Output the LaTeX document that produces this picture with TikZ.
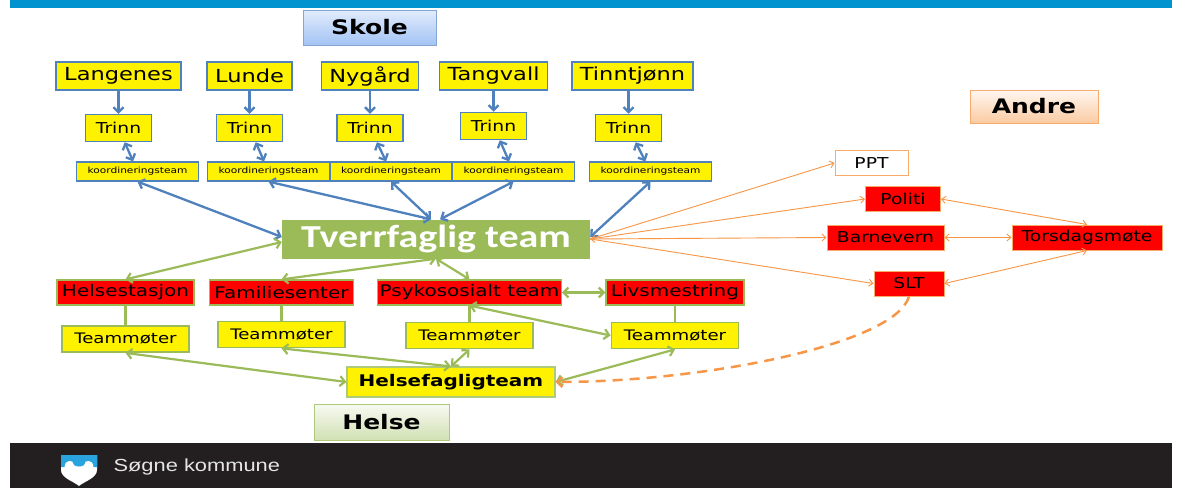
\documentclass[tikz,border=0pt]{standalone}
\usepackage{fontspec}
\usepackage{tikz}
\usetikzlibrary{positioning, arrows.meta}

\newfontfamily\boxfont{DejaVu Sans}[FakeStretch=1.25]
\newfontfamily\tvfont{Carlito}[FakeStretch=1.25]
\newfontfamily\footfont{Liberation Sans}[FakeStretch=1.25]
\newcommand{\boxsize}[1]{\fontsize{#1}{#1}\selectfont}

\definecolor{barblue}{HTML}{0093D0}
\definecolor{skoleblue}{HTML}{4F81BD}
\definecolor{skoletop}{HTML}{E2ECFC}
\definecolor{skolebottom}{HTML}{A3C3F5}
\definecolor{helsegreen}{HTML}{9BBB59}
\definecolor{andreorange}{HTML}{F79646}
\definecolor{footdark}{HTML}{231F20}
\definecolor{logoblue}{HTML}{2AA4DE}

\begin{document}
\begin{tikzpicture}[x=1pt, y=-1pt, on grid, node distance=3cm,
    >={Straight Barb[length=5pt,width=10pt]},
    school/.style={draw=skoleblue, fill=yellow, line width=1.5pt, minimum height=28pt, inner xsep=8pt, font=\boxfont\boxsize{18}},
    trinn/.style={draw=skoleblue, fill=yellow, line width=1.5pt, minimum width=66pt, minimum height=27pt, font=\boxfont\boxsize{15}},
    koord/.style={draw=skoleblue, fill=yellow, line width=1.2pt, minimum width=122pt, minimum height=19pt, inner sep=0pt, font=\boxfont\boxsize{8.5}},
    unit/.style={draw=helsegreen, fill=red, line width=1.2pt, minimum height=25pt, inner xsep=5pt, font=\boxfont\boxsize{16}},
    teammote/.style={draw=helsegreen, fill=yellow, line width=1.8pt, minimum width=127pt, minimum height=26pt, font=\boxfont\boxsize{14.5}},
    andreunit/.style={draw=andreorange!80, fill=red, line width=1pt, minimum height=25pt, font=\boxfont\boxsize{15}},
    header/.style={line width=1pt, minimum height=35pt, font=\boxfont\bfseries\boxsize{20}},
    bluearrow/.style={skoleblue, line width=2.3pt},
    greenarrow/.style={helsegreen, line width=2.2pt},
    orangearrow/.style={andreorange, line width=0.9pt, >={Straight Barb[length=4pt,width=7pt]}},
  ]
  \useasboundingbox[fill=white] (0,0) rectangle (1187,488);
  \fill[barblue] (10,0) rectangle (1172,8);
  \fill[footdark] (10,443) rectangle (1172,488);

  % logo
  \fill[white] (61,455) -- (97,455) -- (97,470) .. controls (97,478) and (85,481) .. (79,486)
    .. controls (73,481) and (61,478) .. (61,470) -- cycle;
  \fill[logoblue] (61,455) -- (97,455) -- (97,467) -- (93.5,467) .. controls (93.5,459) and (84,459) .. (84,465)
    .. controls (82,467) and (76,467) .. (74,465) .. controls (74,459) and (64.5,459) .. (64.5,467) -- (61,467) -- cycle;
  \node[font=\footfont\boxsize{17.5}, text=white!90!black, anchor=west] (kommune) at (110,467) {Søgne kommune};

  % headers
  \node[header, draw=skoleblue!70, top color=skoletop, bottom color=skolebottom, minimum width=133pt] (skole) at (369.5,27.5) {Skole};
  \node[header, draw=andreorange!80, top color=andreorange!8, bottom color=andreorange!50, minimum width=128pt, minimum height=33pt] (andre) at (1034,106.5) {Andre};

  % skoler
  \node[school] (langenes) at (118.5,76) {Langenes};
  \node[school] (lunde) [right=131pt of langenes] {Lunde};
  \node[school] (nygard) [right=120.5pt of lunde] {Nygård};
  \node[school] (tangvall) [right=123.5pt of nygard] {Tangvall};
  \node[school] (tinntjonn) [right=139pt of tangvall] {Tinntjønn};

  \node[trinn] (trinn1) [below=52pt of langenes] {Trinn};
  \node[trinn] (trinn2) [below=52pt of lunde] {Trinn};
  \node[trinn] (trinn3) [below=52pt of nygard] {Trinn};
  \node[trinn] (trinn4) [below=50pt of tangvall] {Trinn};
  \node[trinn] (trinn5) [below left=52pt and 4pt of tinntjonn] {Trinn};

  \node[koord] (koord1) [below right=43.5pt and 19pt of trinn1] {koordineringsteam};
  \node[koord] (koord2) [below right=43.5pt and 19pt of trinn2] {koordineringsteam};
  \node[koord] (koord3) [below right=43.5pt and 21pt of trinn3] {koordineringsteam};
  \node[koord] (koord4) [below right=45.5pt and 20pt of trinn4] {koordineringsteam};
  \node[koord] (koord5) [below right=43.5pt and 22pt of trinn5] {koordineringsteam};

  \node[fill=helsegreen, text=white, minimum width=308pt, minimum height=39pt, font=\tvfont\bfseries\boxsize{32}] (tverr) at (436,239) {Tverrfaglig team};

  % helse
  \node[unit] (helsestasjon) at (125.5,292.5) {Helsestasjon};
  \node[unit] (familiesenter) [right=156pt of helsestasjon] {Familiesenter};
  \node[unit, inner xsep=2pt] (psyko) [right=188pt of familiesenter] {Psykososialt team};
  \node[unit] (livs) [right=205.5pt of psyko] {Livsmestring};

  \node[teammote] (tm1) [below=46.5pt of helsestasjon] {Teammøter};
  \node[teammote] (tm2) [below=42pt of familiesenter] {Teammøter};
  \node[teammote] (tm3) [below=43pt of psyko] {Teammøter};
  \node[teammote] (tm4) [below=43pt of livs] {Teammøter};

  \node[draw=helsegreen!80, fill=yellow, line width=1.2pt, minimum width=208pt, minimum height=30pt, font=\boxfont\bfseries\boxsize{16}] (helsefaglig) at (451,382) {Helsefagligteam};
  \node[header, draw=helsegreen!80, top color=helsegreen!8, bottom color=helsegreen!45, minimum width=135pt, minimum height=36pt] (helse) [below left=40pt and 69.5pt of helsefaglig] {Helse};

  % andre
  \node[andreunit, minimum width=117pt] (barnevern) at (885.5,237.5) {Barnevern};
  \node[andreunit, fill=white, minimum width=73pt] (ppt) [above left=74.5pt and 14pt of barnevern] {PPT};
  \node[andreunit, minimum width=75pt] (politi) [above right=38.5pt and 17.5pt of barnevern] {Politi};
  \node[andreunit, minimum width=70pt] (slt) [below right=46pt and 23.5pt of barnevern] {SLT};
  \node[andreunit, minimum width=150pt] (torsdag) [right=201.5pt of barnevern] {Torsdagsmøte};

  \path[bluearrow, ->]
    (langenes) edge (trinn1)
    (lunde) edge (trinn2)
    (nygard) edge (trinn3)
    (tangvall) edge (trinn4)
    (tinntjonn.south -| trinn5) edge (trinn5);
  \path[bluearrow, <->]
    (trinn1) edge (koord1)
    (trinn2) edge (koord2)
    (trinn3) edge (koord3)
    (trinn4) edge (koord4)
    (trinn5) edge (koord5)
    (koord1.south) edge ([yshift=2pt]tverr.west)
    (koord2.south) edge ([xshift=-5pt]tverr.north)
    (koord3.south) edge ([xshift=-5pt]tverr.north)
    (koord4.south) edge ([xshift=4pt]tverr.north)
    (koord5.south) edge ([yshift=2pt]tverr.east);

  \path[greenarrow, <->]
    ([yshift=-3pt]tverr.west) edge (helsestasjon.north)
    (tverr.south) edge (familiesenter.north)
    (tverr.south) edge (psyko.north)
    (psyko) edge (livs)
    (psyko.south) edge (tm4.west)
    (tm1.south) edge (helsefaglig.west)
    (tm2.south) edge (helsefaglig.north)
    (tm3.south) edge (helsefaglig.north)
    (tm4.south) edge (helsefaglig.east);
  \path[greenarrow]
    (helsestasjon) edge (tm1)
    (familiesenter) edge (tm2)
    (psyko) edge (tm3)
    (livs) edge (tm4);

  \path[orangearrow, ->]
    (tverr.east) edge (ppt.west)
    (tverr.east) edge (politi.west)
    (tverr.east) edge (slt.west);
  \path[orangearrow, <->]
    (tverr.east) edge (barnevern.west)
    (politi.east) edge (torsdag.north)
    (barnevern) edge (torsdag)
    (slt.east) edge (torsdag.south);

  \draw[andreorange, line width=2.5pt, dash pattern=on 10pt off 7pt, ->] (slt.south) .. controls (895,345) and (700,382) .. (helsefaglig.east);
\end{tikzpicture}
\end{document}
